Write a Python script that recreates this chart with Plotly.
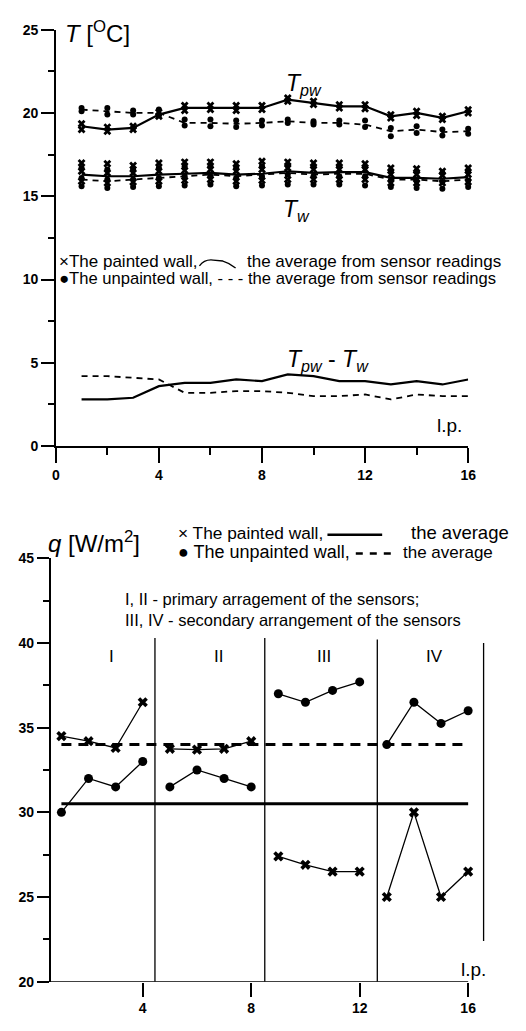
import plotly.graph_objects as go

# ---------------- DATA ----------------
lp = list(range(1, 17))

# Top chart: averages of sensor readings [degC]
tpw_painted_avg = [19.2, 19.0, 19.1, 19.9, 20.3, 20.3, 20.3, 20.3, 20.8, 20.6, 20.4, 20.4, 19.8, 20.0, 19.7, 20.1]
tpw_unpainted_avg = [20.2, 20.1, 20.0, 20.0, 19.4, 19.4, 19.35, 19.4, 19.5, 19.4, 19.4, 19.3, 18.9, 19.0, 18.85, 18.9]
tw_painted_avg = [16.3, 16.2, 16.2, 16.3, 16.35, 16.4, 16.3, 16.35, 16.5, 16.4, 16.45, 16.45, 16.1, 16.1, 16.05, 16.15]
tw_unpainted_avg = [16.0, 15.9, 16.0, 16.1, 16.2, 16.3, 16.2, 16.3, 16.4, 16.3, 16.35, 16.35, 16.0, 16.0, 15.9, 16.0]
diff_painted = [2.8, 2.8, 2.9, 3.6, 3.8, 3.8, 4.0, 3.9, 4.3, 4.2, 3.9, 3.9, 3.7, 3.9, 3.7, 4.0]
diff_unpainted = [4.2, 4.2, 4.1, 4.0, 3.2, 3.2, 3.3, 3.3, 3.2, 3.0, 3.0, 3.1, 2.8, 3.1, 3.0, 3.0]

# Top chart: individual sensor readings
tpw_painted_s1 = [19.35, 19.15, 19.2, 20.05, 20.45, 20.45, 20.45, 20.45, 20.9, 20.7, 20.5, 20.5, 19.9, 20.1, 19.8, 20.2]
tpw_painted_s2 = [19.0, 18.9, 19.0, 19.8, 20.15, 20.2, 20.15, 20.2, 20.7, 20.5, 20.3, 20.25, 19.7, 19.85, 19.6, 20.0]
tpw_unpainted_s1 = [20.3, 20.3, 20.15, 20.2, 19.6, 19.6, 19.55, 19.55, 19.6, 19.5, 19.55, 19.55, 19.1, 19.2, 19.0, 19.05]
tpw_unpainted_s2 = [20.1, 19.9, 19.9, 19.85, 19.25, 19.2, 19.15, 19.25, 19.4, 19.3, 19.3, 19.15, 18.6, 18.8, 18.65, 18.75]
tw_painted_s1 = [17.0, 16.95, 16.85, 17.0, 17.05, 17.05, 16.95, 17.1, 17.05, 17.0, 17.0, 16.95, 16.7, 16.65, 16.5, 16.7]
tw_painted_s2 = [16.5, 16.4, 16.4, 16.5, 16.55, 16.6, 16.5, 16.6, 16.7, 16.6, 16.6, 16.6, 16.3, 16.3, 16.25, 16.3]
tw_painted_s3 = [15.9, 15.8, 15.85, 15.9, 15.95, 16.0, 15.9, 15.95, 16.0, 16.0, 16.0, 16.0, 15.8, 15.8, 15.8, 15.85]
tw_unpainted_s1 = [16.7, 16.6, 16.6, 16.7, 16.8, 16.8, 16.7, 16.8, 16.85, 16.8, 16.8, 16.75, 16.55, 16.5, 16.4, 16.55]
tw_unpainted_s2 = [16.1, 16.0, 16.0, 16.1, 16.2, 16.2, 16.1, 16.2, 16.3, 16.2, 16.2, 16.2, 15.95, 15.9, 15.85, 15.95]
tw_unpainted_s3 = [15.6, 15.5, 15.55, 15.6, 15.65, 15.7, 15.6, 15.65, 15.7, 15.7, 15.7, 15.65, 15.55, 15.5, 15.45, 15.55]

# Bottom chart: heat flux q [W/m2]
q_painted = [34.5, 34.2, 33.8, 36.5, 33.75, 33.7, 33.75, 34.2, 27.4, 26.9, 26.5, 26.5, 25.0, 30.0, 25.0, 26.5]
q_unpainted = [30.0, 32.0, 31.5, 33.0, 31.5, 32.5, 32.0, 31.5, 37.0, 36.5, 37.2, 37.7, 34.0, 36.5, 35.25, 36.0]
q_painted_avg = 30.5
q_unpainted_avg = 34.0
group_labels = ["I", "II", "III", "IV"]
group_label_x = [2.85, 6.8, 10.7, 14.75]
group_size = 4
separator_x = [4.45, 8.5, 12.65, 16.57]
separator_y0 = [20, 20, 20, 22.4]
separator_y1 = [40.3, 40.3, 40.2, 40.0]

top_xticks = [0, 4, 8, 12, 16]
top_xminor = [2, 6, 10, 14]
top_yticks = [0, 5, 10, 15, 20, 25]
top_yminor = [2.5, 7.5, 12.5, 17.5, 22.5]
bot_xticks = [4, 8, 12, 16]
bot_yticks = [20, 25, 30, 35, 40, 45]
bot_yminor = [22.5, 27.5, 32.5, 37.5, 42.5]

# ---------------- FIGURE ----------------
W, H = 526, 1031
FONT = "Liberation Sans"


def px(x):
    return x / W


def py(y):
    return 1 - y / H


fig = go.Figure()

# top: sensor readings
for s in [tpw_painted_s1, tpw_painted_s2, tw_painted_s1, tw_painted_s2, tw_painted_s3]:
    fig.add_trace(go.Scatter(x=lp, y=s, mode="markers", xaxis="x", yaxis="y", cliponaxis=False,
                             marker=dict(symbol="x", size=7, color="black", line=dict(width=0))))
for s in [tpw_unpainted_s1, tpw_unpainted_s2, tw_unpainted_s1, tw_unpainted_s2, tw_unpainted_s3]:
    fig.add_trace(go.Scatter(x=lp, y=s, mode="markers", xaxis="x", yaxis="y", cliponaxis=False,
                             marker=dict(symbol="circle", size=6, color="black")))
# top: averages
for s in [tpw_painted_avg, tw_painted_avg, diff_painted]:
    fig.add_trace(go.Scatter(x=lp, y=s, mode="lines", xaxis="x", yaxis="y", cliponaxis=False,
                             line=dict(color="black", width=2.2)))
for s in [tpw_unpainted_avg, tw_unpainted_avg, diff_unpainted]:
    fig.add_trace(go.Scatter(x=lp, y=s, mode="lines", xaxis="x", yaxis="y", cliponaxis=False,
                             line=dict(color="black", width=1.8, dash="6px,5px")))

# bottom: averages
fig.add_trace(go.Scatter(x=[lp[0], lp[-1]], y=[q_painted_avg, q_painted_avg], mode="lines",
                         xaxis="x2", yaxis="y2", line=dict(color="black", width=3)))
fig.add_trace(go.Scatter(x=[lp[0], lp[-1]], y=[q_unpainted_avg, q_unpainted_avg], mode="lines",
                         xaxis="x2", yaxis="y2", line=dict(color="black", width=3, dash="10px,7px")))
# bottom: groups
for g in range(len(group_labels)):
    sl = slice(g * group_size, (g + 1) * group_size)
    fig.add_trace(go.Scatter(x=lp[sl], y=q_painted[sl], mode="lines+markers", xaxis="x2", yaxis="y2",
                             cliponaxis=False, line=dict(color="black", width=1.3),
                             marker=dict(symbol="x", size=9, color="black")))
    fig.add_trace(go.Scatter(x=lp[sl], y=q_unpainted[sl], mode="lines+markers", xaxis="x2", yaxis="y2",
                             cliponaxis=False, line=dict(color="black", width=1.3),
                             marker=dict(symbol="circle", size=9, color="black")))

shapes = []
for sx, y0, y1 in zip(separator_x, separator_y0, separator_y1):
    shapes.append(dict(type="line", xref="x2", yref="y2", x0=sx, x1=sx, y0=y0, y1=y1,
                       line=dict(color="black", width=1.3)))
# bottom x axis line (ends at 16)
shapes.append(dict(type="line", xref="x2", yref="y2", x0=0.6, x1=16, y0=20, y1=20,
                   line=dict(color="black", width=1.5)))
# top legend curve sample
shapes.append(dict(type="path", xref="paper", yref="paper",
                   path=f"M {px(200)},{py(262)} Q {px(205)},{py(255)} {px(214)},{py(256)} "
                        f"L {px(224)},{py(257)} Q {px(231)},{py(259)} {px(237)},{py(264)}",
                   line=dict(color="black", width=1.3)))
# bottom legend samples
shapes.append(dict(type="line", xref="paper", yref="paper", x0=px(331), x1=px(387), y0=py(535), y1=py(535),
                   line=dict(color="black", width=2.5)))
shapes.append(dict(type="line", xref="paper", yref="paper", x0=px(360), x1=px(402), y0=py(554), y1=py(554),
                   line=dict(color="black", width=2.5, dash="7px,7px")))

ann = []


def text(x, y, t, size=17, anchor="left"):
    ann.append(dict(xref="paper", yref="paper", x=px(x), y=py(y), text=t, showarrow=False,
                    xanchor=anchor, yanchor="middle", align="left",
                    font=dict(family=FONT, size=size, color="black")))


text(60, 24, "<i>T</i> [<sup>O</sup>C]", 24)
text(287, 78, "<i>T<sub>pw</sub></i>", 23)
text(283, 206, "<i>T<sub>w</sub></i>", 23)
text(288, 358, "<i>T<sub>pw</sub></i> - <i>T<sub>w</sub></i>", 23)
text(441, 424, "l.p.", 19)
text(54, 257, "×The painted wall,", 17)
text(247, 257, "the average from sensor readings", 17)
text(54, 275, "●The unpainted wall, - - - the average from sensor readings", 16.6)

text(43, 542, "<i>q</i> [W/m<sup>2</sup>]", 24)
text(176, 533, "× The painted wall,", 17.3)
text(414, 533, "the average", 18.5)
text(176, 553, "● The unpainted wall,", 18)
text(406, 553, "the average", 17)
text(122, 611, "I, II - primary arragement of the sensors;<br>III, IV - secondary arrangement of the sensors", 16.5)
text(466, 977, "l.p.", 19)

for lab, gx in zip(group_labels, group_label_x):
    ann.append(dict(xref="x2", yref="y2", x=gx, y=39.2, text=lab, showarrow=False,
                    xanchor="center", yanchor="middle", font=dict(family=FONT, size=17, color="black")))

axis_common = dict(showgrid=False, zeroline=False, ticks="outside", tickcolor="black", tickwidth=1.5,
                   tickfont=dict(family=FONT, size=14, color="black", weight="bold"))

fig.update_layout(
    width=W, height=H, margin=dict(l=0, r=0, t=0, b=0),
    paper_bgcolor="white", plot_bgcolor="white", showlegend=False,
    xaxis=dict(domain=[px(53), px(475)], range=[0, 16], anchor="y", showline=True, linecolor="black",
               linewidth=1.5, tickvals=top_xticks, ticklen=15,
               minor=dict(tickvals=top_xminor, ticks="outside", ticklen=7, tickwidth=1.5, tickcolor="black"),
               **axis_common),
    yaxis=dict(domain=[py(445), py(22)], range=[0, 25], anchor="x", showline=True, linecolor="black",
               linewidth=1.5, tickvals=top_yticks, ticklen=13,
               minor=dict(tickvals=top_yminor, ticks="outside", ticklen=6, tickwidth=1.5, tickcolor="black"),
               **axis_common),
    xaxis2=dict(domain=[px(47.65), px(494.4)], range=[0.6, 16.7], anchor="y2", showline=False,
                tickvals=bot_xticks, ticklen=14, **axis_common),
    yaxis2=dict(domain=[py(989), py(559)], range=[20, 45], anchor="x2", showline=True, linecolor="black",
                linewidth=1.5, tickvals=bot_yticks, ticklen=12,
                minor=dict(tickvals=bot_yminor, ticks="outside", ticklen=6, tickwidth=1.5, tickcolor="black"),
                **axis_common),
    shapes=shapes, annotations=ann,
)

fig.write_html("out.html")
